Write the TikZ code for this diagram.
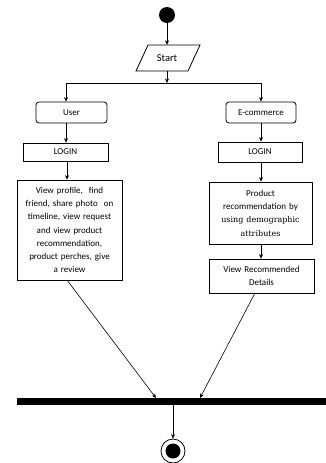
\documentclass[tikz,border=0pt]{standalone}
\usepackage{fontspec}
\setmainfont{Carlito}
\newfontfamily\serifpart{DejaVu Serif}
\usetikzlibrary{arrows.meta}
\begin{document}
\begin{tikzpicture}[x=1pt,y=-1pt,
  arr/.style={draw, line width=0.6pt, -{Stealth[length=4.5pt,width=4pt]}},
  ln/.style={draw, line width=0.6pt},
  box/.style={draw, line width=0.8pt, inner sep=1pt, align=center, font=\fontsize{9}{13.3}\selectfont},
  rbox/.style={box, rounded corners=3pt}]
\useasboundingbox (0,0) rectangle (326,463);
% start
\node[circle, fill, minimum size=16pt, inner sep=0] (init) at (167,15) {};
\node[minimum height=26pt, minimum width=52pt, inner sep=0, font=\fontsize{10.5}{12}\selectfont] (startbox) at (167,58) {Start};
\draw[line width=0.8pt] (148,45) -- (200,45) -- (188,71) -- (136,71) -- cycle;
\draw[arr] (init.south) -- (startbox.north);
% columns
\coordinate (fl) at (66,83);
\coordinate (fr) at (261,83);
\node[rbox, minimum width=71pt, minimum height=21pt] (user) at (71.5,112.5) {User};
\node[box, minimum width=85pt, minimum height=18pt] (login1) at (65.5,152) {LOGIN};
\node[box, minimum width=105pt, minimum height=100pt, text width=100pt] (act1) at (69.5,230) {View profile,\ \ find\\friend, share photo\ \ on\\timeline, view request\\and view product\\recommendation,\\product perches, give\\a review};
\node[rbox, minimum width=70pt, minimum height=21pt] (ecom) at (261,112.5) {E-commerce};
\node[box, minimum width=84pt, minimum height=20pt] (login2) at (260,152) {LOGIN};
\node[box, minimum width=103pt, minimum height=62pt, text width=100pt] (act2) at (260.5,213) {Product\\recommendation by\\{\serifpart\fontsize{8}{13.3}\selectfont using demographic}\\{\serifpart\fontsize{8}{13.3}\selectfont attributes}};
\node[box, minimum width=105pt, minimum height=34pt, text width=100pt] (view) at (261.5,276) {View Recommended\\Details};
% fork
\draw[arr] (startbox.south) -- (startbox.south |- fl);
\draw[ln] (fl) -- (fr);
\draw[arr] (fl) -- (user.north -| fl);
\draw[arr] (fr) -- (ecom.north -| fr);
\draw[arr] (user.south -| fl) -- (login1.north -| fl);
\draw[arr] (login1.south -| 67,0) -- (act1.north -| 67,0);
\draw[arr] (ecom.south -| fr) -- (login2.north -| fr);
\draw[arr] (login2.south -| fr) -- (act2.north -| fr);
\draw[arr] (act2.south -| fr) -- (view.north -| fr);
% join bar
\node[fill, minimum width=309pt, minimum height=7pt, inner sep=0] (bar) at (171.5,401.5) {};
\coordinate (j1) at (156,398);
\coordinate (j2) at (200,398);
\coordinate (a1) at (67,280);
\coordinate (a2) at (255,293);
\draw[arr] (a1) -- (j1);
\draw[arr] (a2) -- (j2);
% end
\node[circle, draw, line width=0.8pt, minimum size=24pt, inner sep=0] (final) at (173,451) {};
\node[circle, fill, minimum size=15pt, inner sep=0] (finalin) at (final.center) {};
\draw[arr] (bar.south -| final) -- (final.north);
\end{tikzpicture}
\end{document}
